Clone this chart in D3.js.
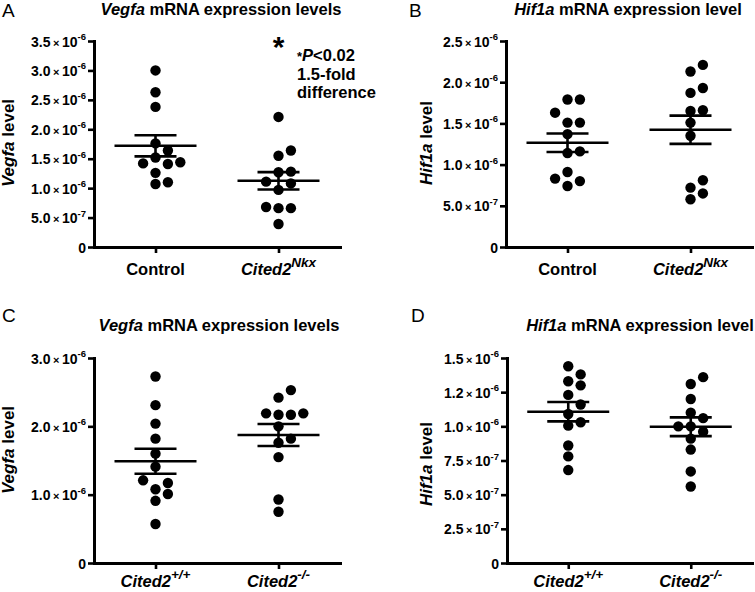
<!DOCTYPE html>
<html><head><meta charset="utf-8">
<script src="https://cdn.jsdelivr.net/npm/d3@7"></script>
<style>
body{margin:0;background:#fff}
svg text{font-family:"Liberation Sans",Arial,Helvetica,sans-serif;fill:#000}
</style></head><body>
<svg id="chart" width="755" height="592"></svg>
<script>
// ---- data (values in units of 10^-6) ----
const categoriesTop = ["Control", "Cited2^Nkx"];
const categoriesBottom = ["Cited2^+/+", "Cited2^-/-"];

const vegfaControl = [3.00, 2.63, 2.38, 1.76, 1.64, 1.52, 1.42, 1.41, 1.44, 1.26, 1.07, 1.10];
const vegfaNkx     = [2.21, 1.64, 1.55, 1.28, 1.27, 1.11, 1.08, 0.97, 0.66, 0.66, 0.68, 0.39];
const hif1aControl = [1.79, 1.79, 1.63, 1.51, 1.51, 1.37, 1.14, 1.16, 0.91, 0.83, 0.80, 0.74];
const hif1aNkx     = [2.21, 2.13, 1.93, 1.87, 1.66, 1.65, 1.51, 1.35, 0.81, 0.72, 0.65, 0.58];
const vegfaWT      = [2.73, 2.31, 2.04, 1.82, 1.60, 1.41, 1.21, 1.17, 1.08, 1.01, 0.91, 0.57];
const vegfaKO      = [2.53, 2.42, 2.19, 2.17, 2.17, 2.19, 2.00, 1.82, 1.76, 1.55, 0.93, 0.75];
const hif1aWT      = [1.44, 1.38, 1.33, 1.30, 1.23, 1.16, 1.09, 1.03, 1.005, 0.86, 0.78, 0.68];
const hif1aKO      = [1.36, 1.31, 1.20, 1.10, 1.06, 1.00, 1.00, 0.96, 0.91, 0.83, 0.67, 0.56];

const ticksA = [0, 0.5, 1.0, 1.5, 2.0, 2.5, 3.0, 3.5];
const tickLabelsA = ["0", "5.0×10^-7", "1.0×10^-6", "1.5×10^-6", "2.0×10^-6", "2.5×10^-6", "3.0×10^-6", "3.5×10^-6"];
const ticksB = [0, 0.5, 1.0, 1.5, 2.0, 2.5];
const tickLabelsB = ["0", "5.0×10^-7", "1.0×10^-6", "1.5×10^-6", "2.0×10^-6", "2.5×10^-6"];
const ticksC = [0, 1.0, 2.0, 3.0];
const tickLabelsC = ["0", "1.0×10^-6", "2.0×10^-6", "3.0×10^-6"];
const ticksD = [0, 0.25, 0.5, 0.75, 1.0, 1.25, 1.5];
const tickLabelsD = ["0", "2.5×10^-7", "5.0×10^-7", "7.5×10^-7", "1.0×10^-6", "1.2×10^-6", "1.5×10^-6"];

const titles = [["Vegfa", " mRNA expression levels"], ["Hif1a", " mRNA expression level"],
                ["Vegfa", " mRNA expression levels"], ["Hif1a", " mRNA expression level"]];
const yTitles = ["Vegfa", "Hif1a", "Vegfa", "Hif1a"];
const annotationLines = ["*P<0.02", "1.5-fold", "difference"];

// ---- layout ----
const panels = [
  {letter:"A", lx:2, ly:17, tx:221, ty:15, ax:94, right:340, top:41, bottom:247, ytx:14, yty:143, xly:275,
   ticks:ticksA, labels:tickLabelsA, cats:categoriesTop, series:[vegfaControl, vegfaNkx], title:titles[0], yt:yTitles[0], annot:true},
  {letter:"B", lx:409, ly:17, tx:628, ty:15, ax:506, right:752, top:41, bottom:247, ytx:432, yty:143, xly:275,
   ticks:ticksB, labels:tickLabelsB, cats:categoriesTop, series:[hif1aControl, hif1aNkx], title:titles[1], yt:yTitles[1]},
  {letter:"C", lx:2, ly:322, tx:219, ty:331, ax:94, right:340, top:358, bottom:563, ytx:14, yty:450, xly:587,
   ticks:ticksC, labels:tickLabelsC, cats:categoriesBottom, series:[vegfaWT, vegfaKO], title:titles[2], yt:yTitles[2]},
  {letter:"D", lx:411, ly:322, tx:640, ty:331, ax:507, right:752, top:358, bottom:563, ytx:432, yty:464, xly:587,
   ticks:ticksD, labels:tickLabelsD, cats:categoriesBottom, series:[hif1aWT, hif1aKO], title:titles[3], yt:yTitles[3]}
];

const svg = d3.select("#chart");
const R = 5.2, SLOT = 12.4, MIN_D = 10.6;

function swarm(vals, y) {
  const idx = d3.range(vals.length).sort((a, b) => vals[a] - vals[b]);
  const placed = [], off = new Array(vals.length);
  const order = [0, 1, -1, 2, -2, 3, -3];
  for (const i of idx) {
    const yi = y(vals[i]);
    for (const k of order) {
      const xi = k * SLOT;
      if (placed.every(p => Math.hypot(p.x - xi, p.y - yi) >= MIN_D)) {
        off[i] = xi; placed.push({x: xi, y: yi}); break;
      }
    }
  }
  return off;
}

panels.forEach(p => {
  const g = svg.append("g");
  const y = d3.scaleLinear().domain([0, d3.max(p.ticks)]).range([p.bottom, p.top]);
  const x = d3.scalePoint().domain(p.cats).range([p.ax, p.right]).padding(0.5);

  // panel letter
  g.append("text").attr("x", p.lx).attr("y", p.ly).attr("font-size", 19).text(p.letter);
  // title
  const t = g.append("text").attr("x", p.tx).attr("y", p.ty).attr("text-anchor", "middle")
    .attr("font-size", 16.5).attr("font-weight", "bold");
  t.append("tspan").attr("font-style", "italic").text(p.title[0]);
  t.append("tspan").text(p.title[1]);
  // y title
  const yt = g.append("text").attr("transform", `translate(${p.ytx},${p.yty}) rotate(-90)`)
    .attr("text-anchor", "middle").attr("font-size", 17).attr("font-weight", "bold");
  yt.append("tspan").attr("font-style", "italic").text(p.yt);
  yt.append("tspan").text(" level");

  // y axis
  const yAxis = d3.axisLeft(y).tickValues(p.ticks).tickSize(6).tickSizeOuter(0).tickFormat("");
  const ya = g.append("g").attr("transform", `translate(${p.ax},0)`).call(yAxis);
  ya.select(".domain").attr("stroke-width", 3).attr("stroke-linecap", "square");
  ya.selectAll(".tick line").attr("stroke-width", 2.6);
  ya.selectAll(".tick").each(function(d) {
    const lab = p.labels[p.ticks.indexOf(d)];
    const tx = d3.select(this).append("text").attr("x", -8).attr("y", 0).attr("dy", "0.36em")
      .attr("text-anchor", "end").attr("font-size", 14).attr("font-weight", "bold")
      .attr("fill", "#000").style("font-family", "'Liberation Sans',Arial,sans-serif");
    if (lab.indexOf("×") < 0) { tx.text(lab); return; }
    const [mant, rest] = lab.split("×");
    const [base, exp] = rest.split("^");
    tx.append("tspan").text(mant);
    tx.append("tspan").attr("dx", 2.5).attr("font-size", 11).text("×");
    tx.append("tspan").attr("dx", 2.5).text(base);
    tx.append("tspan").attr("dy", -6.5).attr("font-size", 9.5).text(exp);
  });

  // x axis
  const xAxis = d3.axisBottom(x).tickSize(6).tickSizeOuter(0).tickFormat("");
  const xa = g.append("g").attr("transform", `translate(0,${p.bottom})`).call(xAxis);
  xa.select(".domain").attr("stroke-width", 3).attr("stroke-linecap", "square");
  xa.selectAll(".tick line").attr("stroke-width", 2.6);

  // category labels
  p.cats.forEach(c => {
    const [base, sup] = c.split("^");
    const tx = g.append("text").attr("x", x(c)).attr("y", p.xly).attr("text-anchor", "middle")
      .attr("font-size", 16.5).attr("font-weight", "bold");
    tx.append("tspan").attr("font-style", sup ? "italic" : "normal").text(base);
    if (sup) tx.append("tspan").attr("dy", -8).attr("font-size", 13.5).attr("font-style", "italic").text(sup);
  });

  // dots, mean, SEM
  p.series.forEach((vals, si) => {
    const cx = x(p.cats[si]);
    const off = swarm(vals, y);
    g.append("g").selectAll("circle").data(vals).join("circle")
      .attr("cx", (d, i) => cx + off[i]).attr("cy", d => y(d)).attr("r", R).attr("fill", "#000");
    const m = d3.mean(vals), sem = d3.deviation(vals) / Math.sqrt(vals.length);
    const lines = [
      [cx - 41, y(m), cx + 41, y(m)],
      [cx - 21, y(m + sem), cx + 21, y(m + sem)],
      [cx - 21, y(m - sem), cx + 21, y(m - sem)],
      [cx, y(m + sem), cx, y(m - sem)]
    ];
    g.append("g").selectAll("line").data(lines).join("line")
      .attr("x1", d => d[0]).attr("y1", d => d[1]).attr("x2", d => d[2]).attr("y2", d => d[3])
      .attr("stroke", "#000").attr("stroke-width", 2.6);
  });

  if (p.annot) {
    const cx = x(p.cats[1]);
    g.append("text").attr("x", cx).attr("y", 57).attr("text-anchor", "middle")
      .attr("font-size", 30).attr("font-weight", "bold").text("*");
    annotationLines.forEach((ln, i) => {
      const tx = g.append("text").attr("x", 297).attr("y", 61 + i * 18.5)
        .attr("font-size", 16.5).attr("font-weight", "bold");
      if (i === 0) {
        tx.append("tspan").attr("font-size", 13).text("*");
        tx.append("tspan").attr("font-style", "italic").text("P");
        tx.append("tspan").text(ln.slice(2));
      } else tx.text(ln);
    });
  }
});
</script>
</body></html>
